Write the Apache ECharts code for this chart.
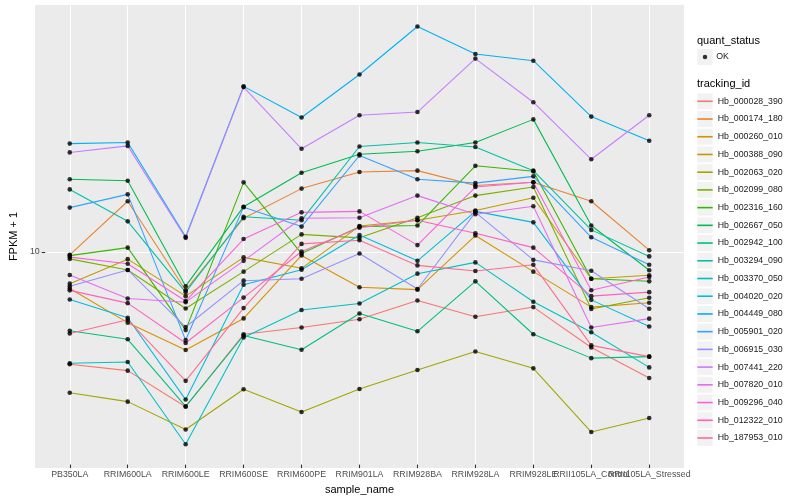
<!DOCTYPE html>
<html>
<head>
<meta charset="utf-8">
<script src="https://cdn.jsdelivr.net/npm/echarts@6/dist/echarts.min.js"></script>
<style>
html,body{margin:0;padding:0;background:#ffffff;}
#chart{width:800px;height:500px;}
</style>
</head>
<body>
<div id="chart"></div>
<script>
// ---------- data ----------
const categories = ['PB350LA','RRIM600LA','RRIM600LE','RRIM600SE','RRIM600PE','RRIM901LA','RRIM928BA','RRIM928LA','RRIM928LE','RRII105LA_Control','RRII105LA_Stressed'];
const trackingIds = ['Hb_000028_390','Hb_000174_180','Hb_000260_010','Hb_000388_090','Hb_002063_020','Hb_002099_080','Hb_002316_160','Hb_002667_050','Hb_002942_100','Hb_003294_090','Hb_003370_050','Hb_004020_020','Hb_004449_080','Hb_005901_020','Hb_006915_030','Hb_007441_220','Hb_007820_010','Hb_009296_040','Hb_012322_010','Hb_187953_010'];
const quantStatus = ['OK'];
const yTickLabels = [10];

// FPKM + 1 per sample (order of categories)
const Hb_000028_390 = [4.14, 3.94, 2.98, 5.22, 5.50, 5.86, 6.78, 5.98, 6.44, 4.71, 3.72];
const Hb_000174_180 = [9.65, 14.6, 7.34, 12.8, 16.1, 18.3, 18.5, 16.5, 16.9, 14.6, 10.0];
const Hb_000260_010 = [7.44, 5.71, 4.62, 5.90, 9.60, 7.51, 7.37, 11.2, 8.47, 6.44, 6.66];
const Hb_000388_090 = [7.72, 9.33, 7.01, 9.46, 8.69, 12.05, 12.6, 13.6, 15.0, 8.02, 8.24];
const Hb_002063_020 = [3.32, 3.10, 2.50, 3.41, 2.86, 3.42, 3.96, 4.57, 4.01, 2.45, 2.73];
const Hb_002099_080 = [9.35, 8.58, 6.37, 8.47, 11.3, 11.0, 12.85, 15.25, 16.3, 6.35, 6.92];
const Hb_002316_160 = [9.59, 10.2, 5.39, 16.9, 9.74, 12.0, 12.1, 19.2, 18.4, 8.02, 7.86];
const Hb_002667_050 = [17.3, 17.1, 7.57, 14.0, 18.2, 21.0, 21.5, 23.0, 27.5, 12.1, 8.56];
const Hb_002942_100 = [5.36, 5.02, 2.99, 5.17, 4.63, 6.13, 5.34, 7.86, 5.22, 4.34, 4.39];
const Hb_003294_090 = [16.0, 12.5, 7.23, 12.95, 12.6, 22.3, 23.0, 22.2, 18.5, 11.7, 9.53];
const Hb_003370_050 = [4.17, 4.21, 2.23, 5.09, 6.30, 6.62, 8.34, 9.10, 6.71, 5.30, 4.04];
const Hb_004020_020 = [6.83, 5.93, 3.15, 7.66, 8.60, 11.25, 9.21, 13.5, 12.4, 6.81, 5.54];
const Hb_004449_080 = [22.8, 23.0, 11.1, 35.5, 27.9, 38.9, 56.4, 45.6, 43.3, 28.1, 23.3];
const Hb_005901_020 = [13.9, 15.4, 4.99, 13.95, 12.0, 20.8, 17.3, 16.8, 17.7, 11.05, 8.93];
const Hb_006915_030 = [7.57, 8.58, 5.52, 7.90, 8.02, 9.75, 7.41, 13.4, 9.28, 8.53, 6.36];
const Hb_007441_220 = [21.3, 22.4, 11.0, 35.3, 21.9, 28.4, 29.1, 44.0, 31.4, 20.2, 28.4];
const Hb_007820_010 = [8.25, 6.88, 6.69, 9.21, 12.8, 12.85, 15.25, 13.2, 14.05, 5.50, 5.89];
const Hb_009296_040 = [9.48, 9.00, 6.75, 10.9, 13.4, 13.5, 10.4, 16.3, 16.9, 7.34, 8.13];
const Hb_012322_010 = [7.33, 6.64, 4.88, 6.93, 9.90, 11.9, 12.6, 11.4, 10.2, 7.01, 7.23];
const Hb_187953_010 = [5.25, 5.84, 3.64, 6.39, 10.5, 10.8, 8.89, 8.51, 8.93, 4.79, 4.39];

const seriesValues = [Hb_000028_390, Hb_000174_180, Hb_000260_010, Hb_000388_090, Hb_002063_020,
  Hb_002099_080, Hb_002316_160, Hb_002667_050, Hb_002942_100, Hb_003294_090, Hb_003370_050,
  Hb_004020_020, Hb_004449_080, Hb_005901_020, Hb_006915_030, Hb_007441_220, Hb_007820_010,
  Hb_009296_040, Hb_012322_010, Hb_187953_010];

// ---------- style ----------
const palette = ['#F8766D','#EA8331','#D89000','#C09B00','#A3A500','#7CAE00','#39B600','#00BB4E','#00BF7D','#00C1A3','#00BFC4','#00BAE0','#00B0F6','#35A2FF','#9590FF','#C77CFF','#E76BF3','#FA62DB','#FF62BC','#FF6C91'];
const FONT = '"Liberation Sans", Arial, Helvetica, sans-serif';
const panel = {left: 35, top: 5, width: 649, height: 463};
const step = panel.width / (categories.length + 0.2);
const gridLeft = panel.left + 0.1 * step;
const gridWidth = categories.length * step;
const yMin = 1.905, yMax = 66.6;

const lineSeries = trackingIds.map((id, i) => ({
  name: id, type: 'line', xAxisIndex: 0, yAxisIndex: 0,
  data: seriesValues[i], symbol: 'none', showSymbol: false,
  color: palette[i], itemStyle: {color: palette[i]},
  lineStyle: {width: 1.07, color: palette[i]},
  silent: true, z: 2
}));
const pointData = [];
seriesValues.forEach(arr => arr.forEach((v, j) => pointData.push([j, v])));
const pointSeries = {
  name: quantStatus[0], type: 'scatter', xAxisIndex: 0, yAxisIndex: 0,
  data: pointData, symbol: 'circle', symbolSize: 4.6,
  itemStyle: {color: '#000000'}, color: '#000000', silent: true, z: 5
};

const keyRects = trackingIds.map((_, i) => ({
  type: 'rect', z: 1,
  shape: {x: 697.3, y: 92.44 + 0.86 + 17.72 * i, width: 15.4, height: 16},
  style: {fill: '#F2F2F2'}
}));

const chart = echarts.init(document.getElementById('chart'), null, {renderer: 'canvas'});
chart.setOption({
  animation: false,
  backgroundColor: '#ffffff',
  textStyle: {fontFamily: FONT},
  grid: [
    {left: gridLeft, top: panel.top, width: gridWidth, height: panel.height, containLabel: false},
    {left: panel.left, top: panel.top, width: panel.width, height: panel.height, containLabel: false}
  ],
  xAxis: [
    {type: 'category', gridIndex: 0, data: categories, boundaryGap: true, position: 'bottom',
     axisLine: {show: false},
     axisTick: {show: true, inside: true, alignWithLabel: true, interval: 0, length: panel.height,
                lineStyle: {color: '#ffffff', width: 1.07}},
     axisLabel: {interval: 0, margin: 5.5, fontSize: 8.8, color: '#4D4D4D', fontFamily: FONT},
     splitLine: {show: false},
     name: 'sample_name', nameLocation: 'middle', nameGap: 15,
     nameTextStyle: {fontSize: 11, color: '#000000', fontFamily: FONT}},
    {type: 'category', gridIndex: 0, data: categories, boundaryGap: true, position: 'bottom',
     axisLine: {show: false},
     axisTick: {show: true, alignWithLabel: true, interval: 0, length: 3.5,
                lineStyle: {color: '#333333', width: 1.07}},
     axisLabel: {show: false}, splitLine: {show: false}},
    {type: 'value', gridIndex: 1, min: 0, max: 1, show: false}
  ],
  yAxis: [
    {type: 'log', logBase: 10, gridIndex: 0, min: yMin, max: yMax, show: false},
    {type: 'log', logBase: 10, gridIndex: 1, min: yMin, max: yMax,
     axisLine: {show: false},
     axisTick: {show: true, length: 3.5, customValues: yTickLabels,
                lineStyle: {color: '#333333', width: 1.07}},
     axisLabel: {customValues: yTickLabels, margin: 5.5, fontSize: 8.8, color: '#4D4D4D', fontFamily: FONT,
                 formatter: v => (yTickLabels.some(t => Math.abs(v - t) < 1e-6) ? String(Math.round(v)) : '')},
     splitLine: {show: true, lineStyle: {color: '#ffffff', width: 1.07}},
     name: 'FPKM + 1', nameLocation: 'middle', nameGap: 18, nameRotate: 90,
     nameTextStyle: {fontSize: 11, color: '#000000', fontFamily: FONT}}
  ],
  legend: [
    {data: [{name: quantStatus[0], icon: 'circle'}], orient: 'vertical', left: 702.75, top: 52,
     itemWidth: 4.5, itemHeight: 4.5, padding: 0, selectedMode: false,
     textStyle: {fontSize: 8.8, lineHeight: 10, color: '#1a1a1a', fontFamily: FONT, padding: [0, 0, 0, 4]}},
    {data: trackingIds.map(n => ({name: n, icon: 'rect'})), orient: 'vertical', left: 697.3, top: 92.44,
     itemWidth: 15.4, itemHeight: 1.6, itemGap: 0, padding: 0, selectedMode: false,
     textStyle: {fontSize: 8.8, lineHeight: 17.72, color: '#1a1a1a', fontFamily: FONT}}
  ],
  graphic: [
    {type: 'rect', z: -10, silent: true,
     shape: {x: panel.left, y: panel.top, width: panel.width, height: panel.height},
     style: {fill: '#EBEBEB'}},
    {type: 'rect', z: 1, shape: {x: 697.3, y: 49, width: 15.4, height: 16}, style: {fill: '#F2F2F2'}},
    ...keyRects,
    {type: 'text', x: 697, y: 40.7, z: 5,
     style: {text: 'quant_status', fontSize: 11, fontFamily: FONT, fill: '#000000',
             verticalAlign: 'middle', textVerticalAlign: 'middle'}},
    {type: 'text', x: 697, y: 84.3, z: 5,
     style: {text: 'tracking_id', fontSize: 11, fontFamily: FONT, fill: '#000000',
             verticalAlign: 'middle', textVerticalAlign: 'middle'}}
  ],
  series: [...lineSeries, pointSeries]
});
</script>
</body>
</html>
